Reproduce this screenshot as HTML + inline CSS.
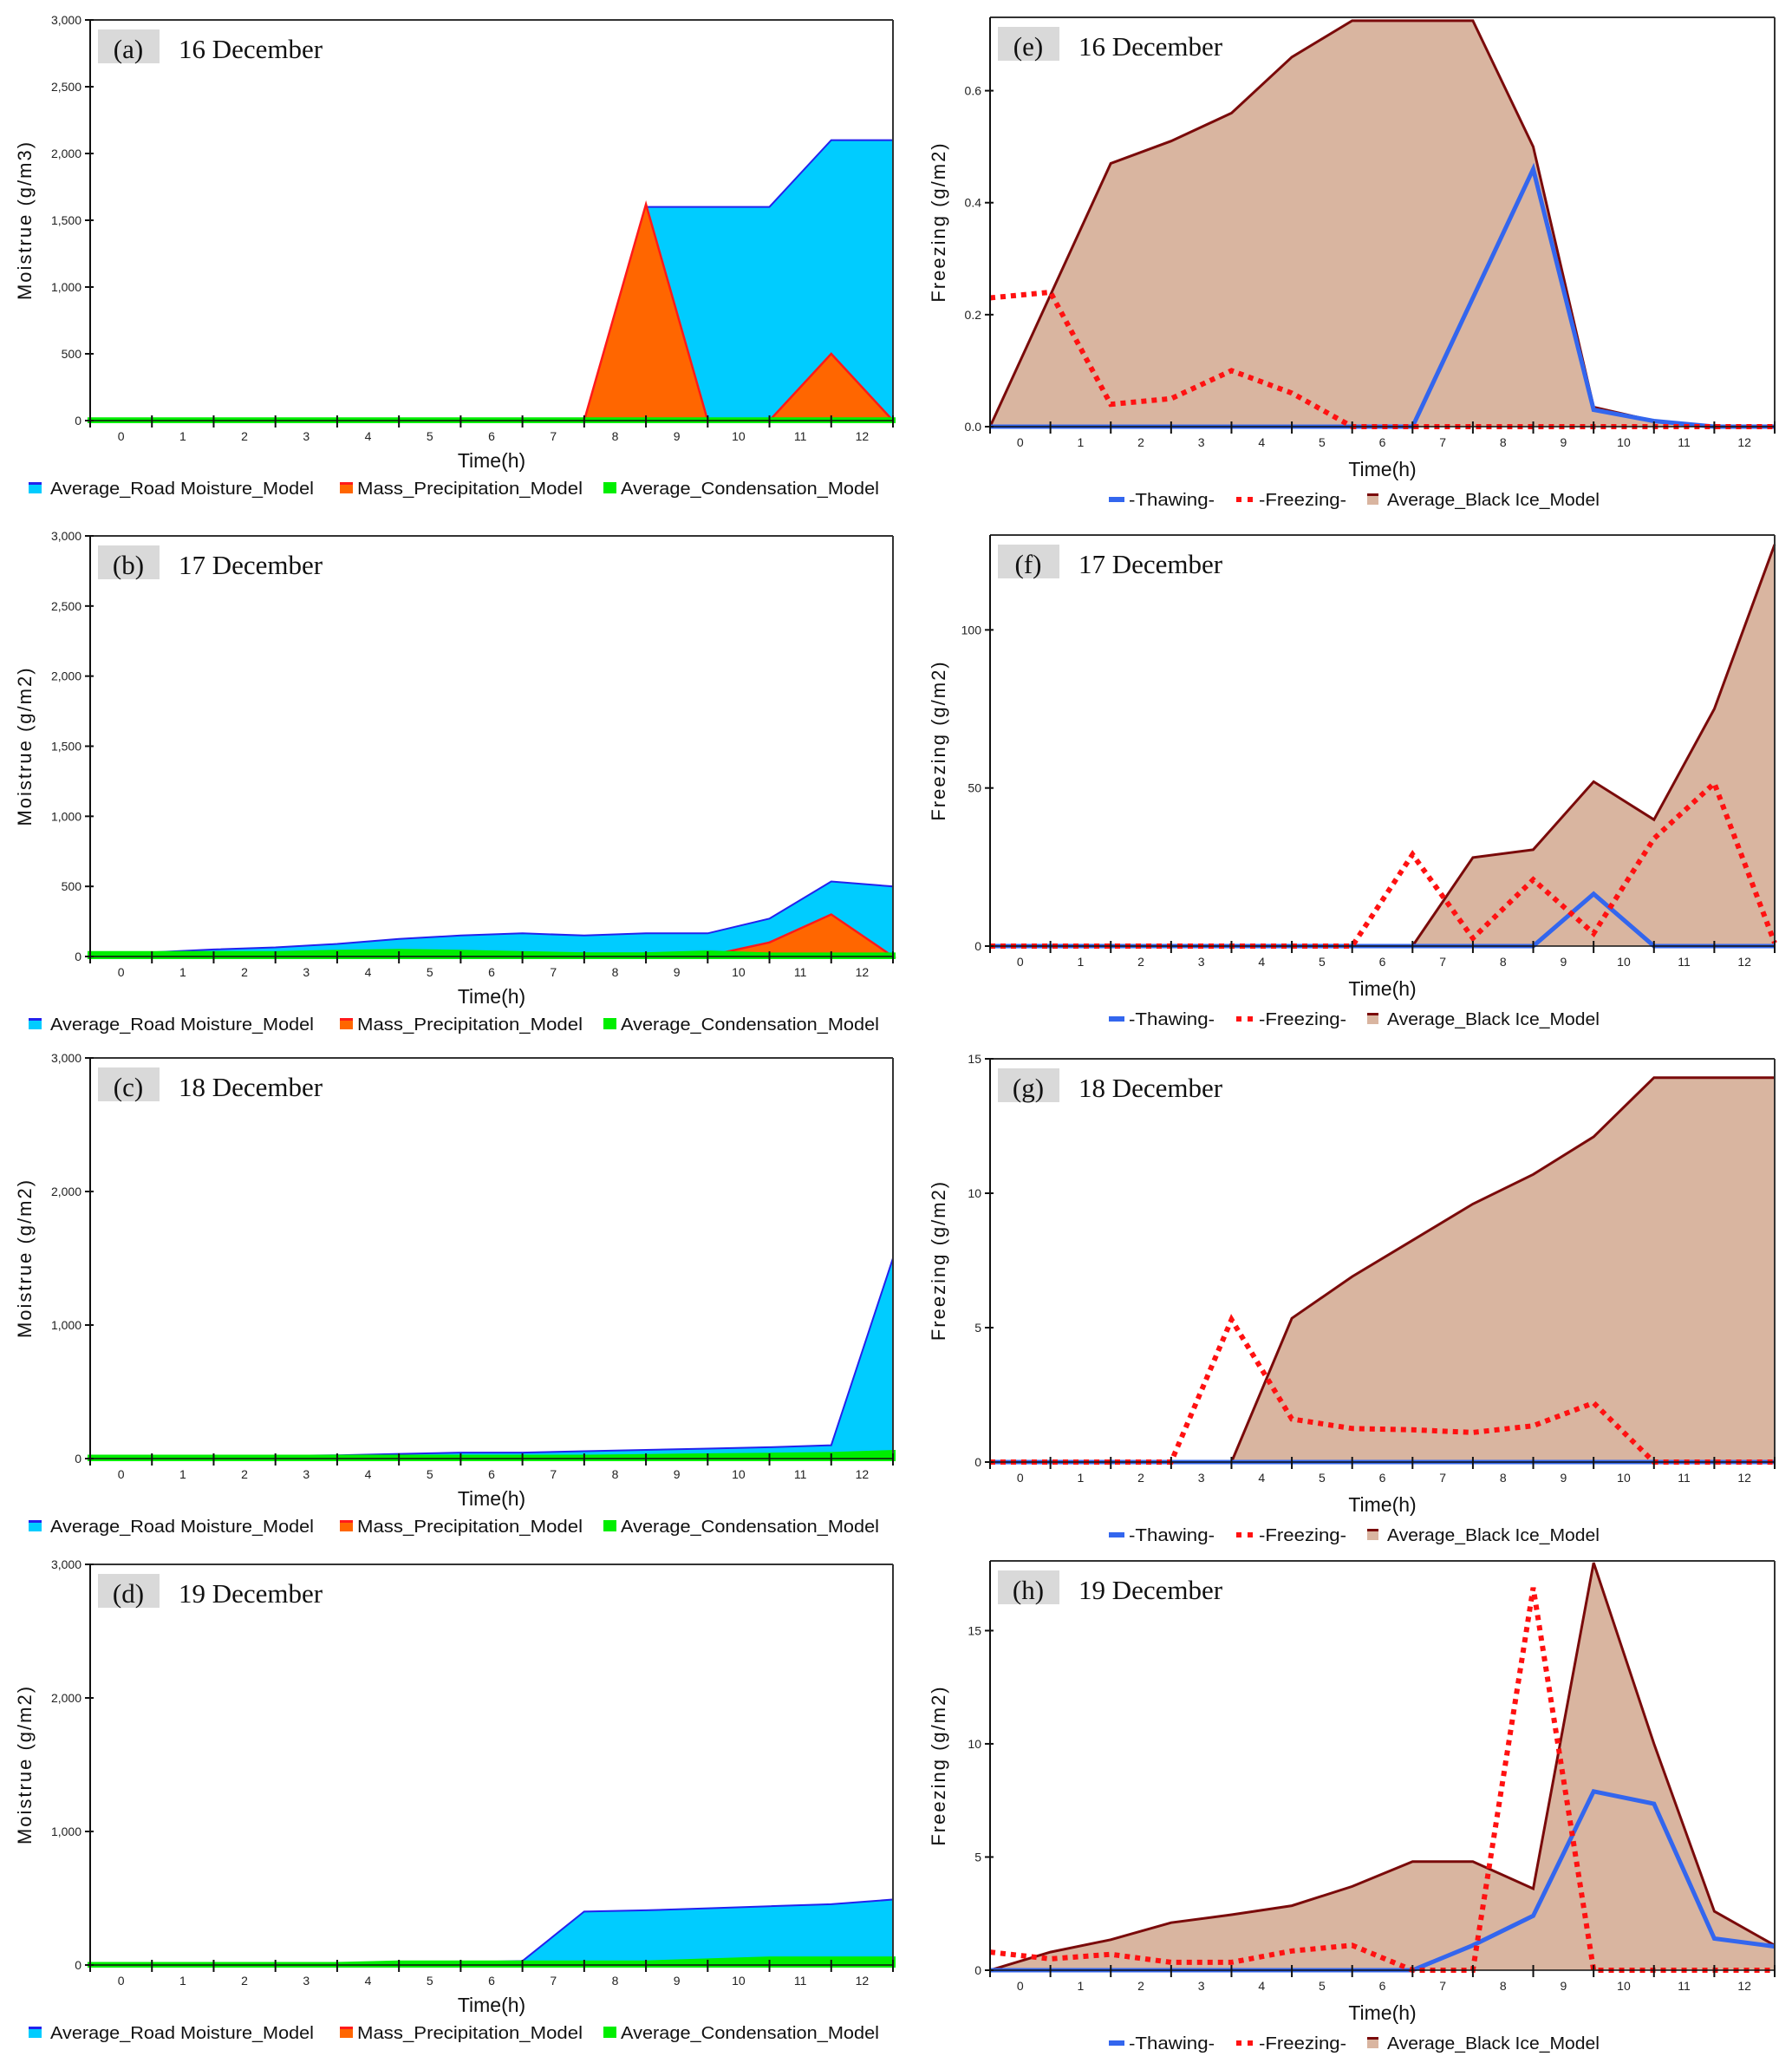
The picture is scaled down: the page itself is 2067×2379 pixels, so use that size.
<!DOCTYPE html>
<html><head><meta charset="utf-8"><title>Moisture and black ice model charts</title>
<style>
html,body{margin:0;padding:0;background:#fff;}
svg{display:block;}
text{font-family:"Liberation Sans",sans-serif;}
.serif{font-family:"Liberation Serif",serif;}
</style></head>
<body>
<svg id="fig" width="2067" height="2379" viewBox="0 0 2067 2379" xmlns="http://www.w3.org/2000/svg"></svg>
<script>
// ---------- data ----------
const hours = ["0","1","2","3","4","5","6","7","8","9","10","11","12"];
// moisture panels (values at 14 band boundaries)
const roadA = [0,0,0,0,0,0,0,0,0,1600,1600,1600,2100,2100];
const precA = [0,0,0,0,0,0,0,0,0,1620,0,0,500,0];
const condA = [5,5,5,5,5,5,5,5,5,5,5,5,5,5];
const roadB = [30,30,50,65,90,125,150,165,150,165,165,270,535,500];
const precB = [0,0,0,0,5,5,5,0,0,0,5,100,300,0];
const condB = [20,20,20,20,30,35,30,20,12,12,25,10,10,10];
const roadC = [10,10,10,20,25,35,45,45,55,65,75,85,100,1500];
const precC = [0,0,0,0,0,0,0,0,0,0,5,5,5,15];
const condC = [10,10,10,10,10,10,10,10,10,15,20,25,30,45];
const roadD = [10,10,5,5,5,15,20,30,400,410,425,440,455,490];
const precD = [0,0,0,0,0,0,0,0,0,0,5,10,10,10];
const condD = [3,3,3,3,3,15,15,15,15,15,30,45,45,45];
const ticksMoistFine = [0,500,1000,1500,2000,2500,3000];
const ticksMoist = [0,1000,2000,3000];
// freezing panels
const iceE = [0,0.235,0.47,0.51,0.56,0.66,0.725,0.725,0.725,0.50,0.035,0.01,0,0];
const frzE = [0.23,0.24,0.04,0.05,0.10,0.06,0,0,0,0,0,0,0,0];
const thwE = [0,0,0,0,0,0,0,0,0.23,0.46,0.03,0.01,0,0];
const iceF = [0,0,0,0,0,0,0,0,28,30.5,52,40,75,127];
const frzF = [0,0,0,0,0,0,0,29,2.5,21,4,34,51.5,1];
const thwF = [0,0,0,0,0,0,0,0,0,0,16.5,0,0,0];
const iceG = [0,0,0,0,0,5.35,6.9,8.25,9.6,10.7,12.1,14.3,14.3,14.3];
const frzG = [0,0,0,0,5.3,1.6,1.25,1.2,1.1,1.35,2.2,0,0,0];
const thwG = [0,0,0,0,0,0,0,0,0,0,0,0,0,0];
const iceH = [0,0.8,1.35,2.1,2.45,2.85,3.7,4.8,4.8,3.6,18.0,10.0,2.6,1.1];
const frzH = [0.8,0.5,0.7,0.35,0.35,0.85,1.1,0,0,16.9,0,0,0,0];
const thwH = [0,0,0,0,0,0,0,0,1.1,2.4,7.9,7.35,1.4,1.05];
const ticksE = [0,0.2,0.4,0.6];
const ticksE_lbl = ["0.0","0.2","0.4","0.6"];
const ticksF = [0,50,100];
const ticksG = [0,5,10,15];
const ticksH = [0,5,10,15];

// ---------- helpers ----------
const NS = "http://www.w3.org/2000/svg";
const svg = document.getElementById('fig');
function el(tag, attrs, parent){
  const e = document.createElementNS(NS, tag);
  for (const k in attrs) e.setAttribute(k, attrs[k]);
  (parent||svg).appendChild(e);
  return e;
}
function fmt(v){ return v.toLocaleString('en-US'); }

function panel(cfg){
  const g = el('g', {});
  
  
  const L=cfg.x0, R=cfg.x1, T=cfg.top, B=cfg.zero;
  const n = 13, bw = (R-L)/n;
  const xb = i => L + i*bw;
  const y = v => B - (v/cfg.ymax)*(B-T);
  const pts = arr => arr.map((v,i)=>xb(i).toFixed(1)+','+y(v).toFixed(1)).join(' ');
  const area = arr => xb(0)+','+B+' '+pts(arr)+' '+xb(13)+','+B;

  if (cfg.type==='moist'){
    const a1 = el('polygon',{points:area(cfg.road),fill:'#00ccff',stroke:'#2222ee','stroke-width':2},g);
    
    
    const a2 = el('polygon',{points:area(cfg.prec),fill:'#ff6600',stroke:'#ff1a1a','stroke-width':2.5},g);
    
    
    const a3 = el('polygon',{points:area(cfg.cond),fill:'#00ee00',stroke:'#00ee00','stroke-width':6},g);
    
    
  } else {
    const a1 = el('polygon',{points:area(cfg.ice),fill:'#d9b5a0',stroke:'none'},g);
    
    
    const l1 = el('polyline',{points:pts(cfg.ice),fill:'none',stroke:'#7a0a0a','stroke-width':3},g);
    
    
    const l2 = el('polyline',{points:pts(cfg.thw),fill:'none',stroke:'#3366ee','stroke-width':5},g);
    
    
    const l3 = el('polyline',{points:pts(cfg.frz),fill:'none',stroke:'#ff1111','stroke-width':6,'stroke-dasharray':'6 6'},g);
    
    
  }
  // frame
  el('line',{x1:L,y1:T,x2:R,y2:T,stroke:'#333','stroke-width':2},g);
  el('line',{x1:R,y1:T,x2:R,y2:B,stroke:'#333','stroke-width':2},g);
  el('line',{x1:L,y1:B,x2:R,y2:B,stroke:'#111','stroke-width':1.5},g);
  el('line',{x1:L,y1:T,x2:L,y2:B+8,stroke:'#111','stroke-width':2},g);
  // y ticks
  cfg.yticks.forEach((v,i)=>{
    const yy=y(v);
    el('line',{x1:L-6,y1:yy,x2:L+4,y2:yy,stroke:'#111','stroke-width':2},g);
    const t=el('text',{x:L-10,y:yy+5,'font-size':14,'text-anchor':'end',fill:'#222'},g);
    t.textContent = cfg.ylabels ? cfg.ylabels[i] : fmt(v);
    
    
  });
  // x ticks
  for(let i=1;i<=13;i++){ el('line',{x1:xb(i),y1:B-6,x2:xb(i),y2:B+8,stroke:'#111','stroke-width':2},g); }
  hours.forEach((h,i)=>{
    const t=el('text',{x:L+(i+0.5)*bw,y:B+23,'font-size':14,'text-anchor':'middle',fill:'#222'},g);
    t.textContent=h;
    
    
  });
  // titles
  const xt=el('text',{x:(L+R)/2,y:B+(cfg.type==='moist'?54:57),'font-size':23,'text-anchor':'middle',fill:'#111'},g);
  xt.textContent='Time(h)';
  
  
  const yc=(T+B)/2, yx=cfg.type==='moist'?36:(L-52);
  const yt=el('text',{x:yx,y:yc,'font-size':22,'text-anchor':'middle',fill:'#111','letter-spacing':'2',transform:'rotate(-90 '+yx+' '+yc+')'},g);
  yt.textContent=cfg.ytitle;
  
  
  // label box
  const bx=el('rect',{x:L+9,y:T+11,width:71,height:39,fill:'#d9d9d9'},g);
  
  
  const lt=el('text',{x:L+44,y:T+44,'font-size':31,'text-anchor':'middle',fill:'#111',class:'serif'},g);
  lt.textContent=cfg.letter;
  
  
  const dt=el('text',{x:L+102,y:T+44,'font-size':31,fill:'#111',class:'serif'},g);
  dt.textContent=cfg.date;
  
  
  // legend
  const lg=el('g',{},g);
  
  
  if(cfg.type==='moist'){
    const ly=B+85;
    const items=[[33,58,304,'#00ccff','#2222ee','Average_Road Moisture_Model'],[392,412,260,'#ff6600','#ff1a1a','Mass_Precipitation_Model'],[696,716,298,'#00ee00','#00ee00','Average_Condensation_Model']];
    items.forEach(it=>{
      el('rect',{x:it[0],y:ly-12,width:15,height:11,fill:it[3]},lg);
      el('rect',{x:it[0],y:ly-14,width:15,height:3,fill:it[4]},lg);
      const t=el('text',{x:it[1],y:ly,'font-size':20,fill:'#111',textLength:it[2],lengthAdjust:'spacingAndGlyphs'},lg);
      t.textContent=it[5];
      
      
    });
  } else {
    const ly=B+91;
    el('rect',{x:1279,y:ly-10,width:18,height:6,fill:'#3366ee'},lg);
    el('rect',{x:1426,y:ly-10,width:6,height:6,fill:'#ff1111'},lg);
    el('rect',{x:1439,y:ly-10,width:6,height:6,fill:'#ff1111'},lg);
    el('rect',{x:1577,y:ly-12,width:13,height:11,fill:'#d9b5a0'},lg);
    el('rect',{x:1577,y:ly-14,width:13,height:3,fill:'#7a0a0a'},lg);
    [[1302,99,'-Thawing-'],[1452,101,'-Freezing-'],[1600,245,'Average_Black Ice_Model']].forEach(it=>{
      const t=el('text',{x:it[0],y:ly,'font-size':20,fill:'#111',textLength:it[1],lengthAdjust:'spacingAndGlyphs'},lg);
      t.textContent=it[2];
      
      
    });
  }
}

const LX0=104, LX1=1030, RX0=1142, RX1=2047;
panel({name:'chart-a-16-december',type:'moist',x0:LX0,x1:LX1,top:23,zero:485,ymax:3000,yticks:ticksMoistFine,road:roadA,prec:precA,cond:condA,letter:'(a)',date:'16 December',ytitle:'Moistrue (g/m3)'});
panel({name:'chart-b-17-december',type:'moist',x0:LX0,x1:LX1,top:618,zero:1103,ymax:3000,yticks:ticksMoistFine,road:roadB,prec:precB,cond:condB,letter:'(b)',date:'17 December',ytitle:'Moistrue (g/m2)'});
panel({name:'chart-c-18-december',type:'moist',x0:LX0,x1:LX1,top:1220,zero:1682,ymax:3000,yticks:ticksMoist,road:roadC,prec:precC,cond:condC,letter:'(c)',date:'18 December',ytitle:'Moistrue (g/m2)'});
panel({name:'chart-d-19-december',type:'moist',x0:LX0,x1:LX1,top:1804,zero:2266,ymax:3000,yticks:ticksMoist,road:roadD,prec:precD,cond:condD,letter:'(d)',date:'19 December',ytitle:'Moistrue (g/m2)'});
panel({name:'chart-e-16-december',type:'ice',x0:RX0,x1:RX1,top:20,zero:492,ymax:0.731,yticks:ticksE,ylabels:ticksE_lbl,ice:iceE,frz:frzE,thw:thwE,letter:'(e)',date:'16 December',ytitle:'Freezing (g/m2)'});
panel({name:'chart-f-17-december',type:'ice',x0:RX0,x1:RX1,top:617,zero:1091,ymax:130,yticks:ticksF,ice:iceF,frz:frzF,thw:thwF,letter:'(f)',date:'17 December',ytitle:'Freezing (g/m2)'});
panel({name:'chart-g-18-december',type:'ice',x0:RX0,x1:RX1,top:1221,zero:1686,ymax:15,yticks:ticksG,ice:iceG,frz:frzG,thw:thwG,letter:'(g)',date:'18 December',ytitle:'Freezing (g/m2)'});
panel({name:'chart-h-19-december',type:'ice',x0:RX0,x1:RX1,top:1800,zero:2272,ymax:18.08,yticks:ticksH,ice:iceH,frz:frzH,thw:thwH,letter:'(h)',date:'19 December',ytitle:'Freezing (g/m2)'});
</script>
</body></html>
